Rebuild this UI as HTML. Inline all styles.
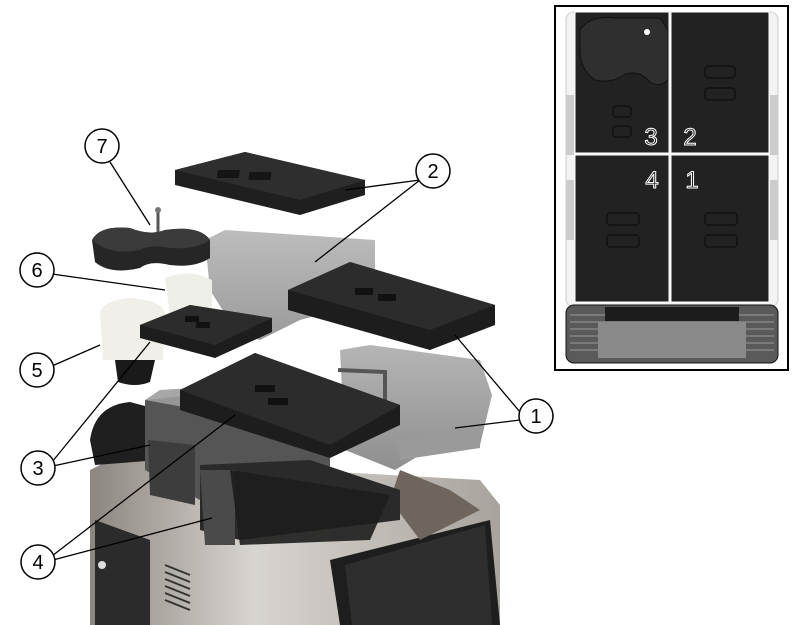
<!DOCTYPE html>
<html><head><style>html,body{margin:0;padding:0;background:#fff}svg{display:block}</style></head>
<body>
<svg width="800" height="625" viewBox="0 0 800 625" xmlns="http://www.w3.org/2000/svg" font-family="Liberation Sans, sans-serif">
<defs>
<linearGradient id="steel" x1="0" x2="1"><stop offset="0" stop-color="#8c8680"/><stop offset="0.4" stop-color="#d8d4cf"/><stop offset="1" stop-color="#a8a39d"/></linearGradient>
<linearGradient id="glass" x1="0" y1="0" x2="0" y2="1"><stop offset="0" stop-color="#b5b5b5"/><stop offset="1" stop-color="#8f8f8f"/></linearGradient>
</defs>
<path d="M90 470 L150 440 L300 470 L480 480 L500 505 L500 625 L90 625 Z" fill="url(#steel)"/>
<path d="M95 520 L150 540 L150 625 L95 625 Z" fill="#2b2b2b"/>
<circle cx="102" cy="565" r="4" fill="#ddd"/>
<g stroke="#333" stroke-width="2"><line x1="165" y1="565" x2="190" y2="575"/><line x1="165" y1="572" x2="190" y2="582"/><line x1="165" y1="579" x2="190" y2="589"/><line x1="165" y1="586" x2="190" y2="596"/><line x1="165" y1="593" x2="190" y2="603"/><line x1="165" y1="600" x2="190" y2="610"/></g>
<path d="M330 560 L490 520 L500 625 L340 625 Z" fill="#1e1e1e"/>
<path d="M345 565 L485 525 L492 625 L352 625 Z" fill="#2e2e2e"/>
<path d="M400 470 L450 490 L480 510 L420 540 L390 500 Z" fill="#6e655c"/>
<path d="M90 440 Q95 405 130 402 L160 410 L160 460 L95 465 Z" fill="#1f1f1f"/>
<path d="M145 400 L240 390 L330 395 L330 470 L200 500 L145 470 Z" fill="#555"/>
<path d="M148 440 L195 445 L195 505 L150 495 Z" fill="#3d3d3d"/>
<path d="M200 465 L310 460 L400 490 L400 520 L240 540 L200 530 Z" fill="#2a2a2a"/>
<path d="M200 470 L235 470 L235 545 L205 545 Z" fill="#4a4a4a"/>
<path d="M230 470 L390 495 L370 540 L240 545 Z" fill="#1d1d1d" opacity="0.9"/>
<path d="M205 240 L225 230 L375 240 L375 300 L300 320 L260 340 L235 330 L210 290 Z" fill="url(#glass)" opacity="0.9"/>
<path d="M340 350 L370 345 L480 360 L492 395 L480 445 L420 455 L395 470 L345 450 Z" fill="url(#glass)"/>
<path d="M395 440 L480 435 L480 448 L400 460 Z" fill="#9a9a9a"/>
<path d="M338 370 L385 372 L385 420" fill="none" stroke="#555" stroke-width="4"/>
<path d="M145 400 L160 390 L240 385 L240 405 L200 410 Z" fill="#9d9d9d" opacity="0.9"/>
<path d="M165 278 Q190 268 212 280 L212 315 L170 315 Z" fill="#efefea"/>
<path d="M100 312 Q105 300 130 298 Q160 300 165 312 L163 360 L103 360 Z" fill="#f0efe9"/>
<path d="M115 360 L155 360 L150 382 Q135 388 118 382 Z" fill="#1a1a1a"/>
<path d="M92 240 Q100 225 130 228 Q150 236 165 230 Q200 225 210 240 L210 258 Q195 268 170 265 Q150 260 140 268 Q110 275 95 262 Z" fill="#262626"/>
<path d="M92 240 Q100 225 130 228 Q150 236 165 230 Q200 225 210 240 Q195 250 170 248 Q150 244 140 250 Q110 256 92 240 Z" fill="#3b3b3b"/>
<line x1="158" y1="232" x2="158" y2="212" stroke="#555" stroke-width="3"/>
<circle cx="158" cy="210" r="3" fill="#777"/>
<path d="M175 170 L245 152 L365 180 L365 195 L300 215 L175 185 Z" fill="#1f1f1f"/>
<path d="M175 170 L245 152 L365 180 L300 200 Z" fill="#2e2e2e"/>
<rect x="248" y="170" width="22" height="8" fill="#151515" transform="skewX(-10)"/>
<rect x="280" y="172" width="22" height="8" fill="#151515" transform="skewX(-10)"/>
<path d="M288 290 L350 262 L495 305 L495 325 L430 350 L288 310 Z" fill="#1d1d1d"/>
<path d="M288 290 L350 262 L495 305 L430 330 Z" fill="#2c2c2c"/>
<rect x="355" y="288" width="18" height="7" fill="#111"/><rect x="378" y="294" width="18" height="7" fill="#111"/>
<path d="M140 325 L190 305 L272 318 L272 332 L215 358 L140 338 Z" fill="#1d1d1d"/>
<path d="M140 325 L190 305 L272 318 L215 345 Z" fill="#2c2c2c"/>
<rect x="185" y="316" width="14" height="6" fill="#111"/><rect x="196" y="322" width="14" height="6" fill="#111"/>
<path d="M180 390 L255 353 L400 405 L400 425 L330 458 L180 410 Z" fill="#1d1d1d"/>
<path d="M180 390 L255 353 L400 405 L330 445 Z" fill="#2c2c2c"/>
<rect x="255" y="385" width="20" height="7" fill="#111"/><rect x="268" y="398" width="20" height="7" fill="#111"/>
<g stroke="#000" stroke-width="1.3" fill="none">
<line x1="110" y1="162" x2="150" y2="225"/>
<line x1="420" y1="180" x2="345" y2="190"/>
<line x1="420" y1="180" x2="315" y2="262"/>
<line x1="52" y1="274" x2="165" y2="290"/>
<line x1="52" y1="366" x2="100" y2="345"/>
<line x1="520" y1="412" x2="455" y2="335"/>
<line x1="520" y1="420" x2="455" y2="428"/>
<line x1="52" y1="462" x2="150" y2="342"/>
<line x1="53" y1="466" x2="150" y2="445"/>
<line x1="52" y1="556" x2="235" y2="415"/>
<line x1="53" y1="560" x2="212" y2="518"/>
</g>
<g fill="#fff" stroke="#000" stroke-width="1.5">
<circle cx="102" cy="146" r="17"/><circle cx="433" cy="171" r="17"/><circle cx="37" cy="270" r="17"/>
<circle cx="37" cy="370" r="17"/><circle cx="536" cy="416" r="17"/><circle cx="38" cy="468" r="17"/><circle cx="38" cy="562" r="17"/>
</g>
<g fill="#000" font-size="20" text-anchor="middle">
<text x="102" y="153">7</text><text x="433" y="178">2</text><text x="37" y="277">6</text><text x="37" y="377">5</text><text x="536" y="423">1</text><text x="38" y="475">3</text><text x="38" y="569">4</text>
</g>
<rect x="555" y="6" width="233" height="364" fill="#fff" stroke="#000" stroke-width="2"/>
<rect x="566" y="12" width="212" height="295" rx="8" fill="#f3f3f3" stroke="#ccc"/>
<rect x="566" y="95" width="8" height="60" fill="#ccc"/><rect x="770" y="95" width="8" height="60" fill="#ccc"/>
<rect x="566" y="180" width="8" height="60" fill="#ccc"/><rect x="770" y="180" width="8" height="60" fill="#ccc"/>
<rect x="575" y="12" width="94" height="141" fill="#222" stroke="#fff" stroke-width="1"/>
<path d="M580 30 Q590 15 615 18 L660 18 L668 30 L668 80 Q660 88 650 82 Q640 70 625 74 Q612 84 595 80 Q580 70 580 50 Z" fill="#2f2f2f" stroke="#111"/>
<circle cx="647" cy="32" r="3" fill="#fff"/>
<rect x="671" y="12" width="98" height="141" fill="#222" stroke="#fff" stroke-width="1"/>
<rect x="575" y="155" width="94" height="147" fill="#222" stroke="#fff" stroke-width="1"/>
<rect x="671" y="155" width="98" height="147" fill="#222" stroke="#fff" stroke-width="1"/>
<g fill="none" stroke="#111" stroke-width="1.5">
<rect x="705" y="66" width="30" height="12" rx="3"/><rect x="705" y="88" width="30" height="12" rx="3"/>
<rect x="613" y="106" width="18" height="11" rx="3"/><rect x="613" y="126" width="18" height="11" rx="3"/>
<rect x="607" y="213" width="32" height="12" rx="3"/><rect x="607" y="235" width="32" height="12" rx="3"/>
<rect x="705" y="213" width="32" height="12" rx="3"/><rect x="705" y="235" width="32" height="12" rx="3"/>
</g>
<g fill="#222" stroke="#fff" stroke-width="1" font-size="24" text-anchor="middle">
<text x="651" y="145">3</text><text x="690" y="145">2</text><text x="652" y="188">4</text><text x="692" y="188">1</text>
</g>
<rect x="566" y="305" width="212" height="58" rx="8" fill="#5a5a5a" stroke="#111"/>
<g stroke="#999" stroke-width="1"><line x1="570" y1="315" x2="774" y2="315"/><line x1="570" y1="322" x2="774" y2="322"/><line x1="570" y1="329" x2="774" y2="329"/><line x1="570" y1="336" x2="774" y2="336"/><line x1="570" y1="343" x2="774" y2="343"/><line x1="570" y1="350" x2="774" y2="350"/></g>
<rect x="605" y="307" width="134" height="14" fill="#1c1c1c"/>
<rect x="598" y="322" width="148" height="36" fill="#8a8a8a"/>
</svg>
</body></html>
